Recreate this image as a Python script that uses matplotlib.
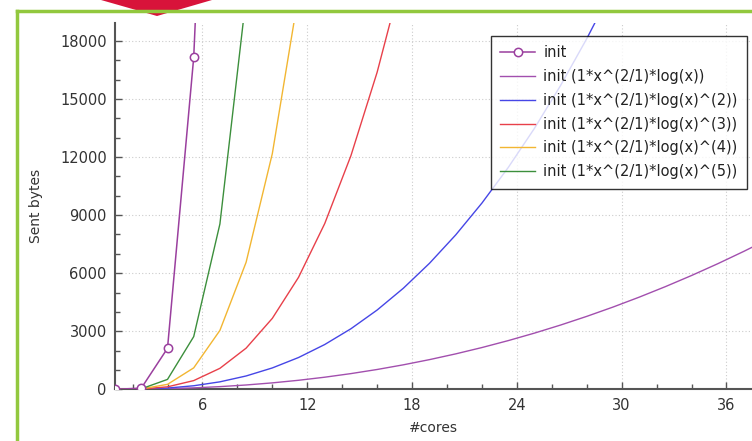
import matplotlib
matplotlib.use("Agg")
import matplotlib.pyplot as plt
from matplotlib.patches import Polygon
from matplotlib.lines import Line2D
from matplotlib.ticker import MultipleLocator

# number of cores for each sample
cores = [1, 2.5, 4, 5.5, 7, 8.5, 10, 11.5, 13, 14.5, 16, 17.5, 19,
         20.5, 22, 23.5, 25, 26.5, 28, 29.5, 31, 32.5, 34, 35.5, 37, 38.5]

# measured sent bytes
init_bytes = [0, 60, 2120, 17150, 48000]

# fitted models, init (1*x^(2/1)*log(x)^(k))
fit_k1 = [0, 8, 32, 74, 138, 223, 332, 466, 625, 811, 1024, 1265, 1534,
          1831, 2158, 2515, 2902, 3320, 3769, 4249, 4761, 5305, 5881, 6490,
          7132, 7807]
fit_k2 = [0, 11, 64, 183, 386, 689, 1104, 1642, 2314, 3129, 4096, 5222,
          6514, 7980, 9625, 11456, 13478, 15697, 18119, 20747]
fit_k3 = [0, 14, 128, 450, 1084, 2127, 3666, 5786, 8564, 12073, 16384, 21563]
fit_k4 = [0, 19, 256, 1107, 3044, 6566, 12178, 20387]
fit_k5 = [0, 25, 512, 2723, 8546, 20272]

fit_labels = [
    "init (1*x^(2/1)*log(x))",
    "init (1*x^(2/1)*log(x)^(2))",
    "init (1*x^(2/1)*log(x)^(3))",
    "init (1*x^(2/1)*log(x)^(4))",
    "init (1*x^(2/1)*log(x)^(5))",
]
fit_colors = ["#a24fae", "#4646e6", "#e8404a", "#f2b632", "#3c8f3c"]

W, H = 752, 441
fig = plt.figure(figsize=(W / 100, H / 100), dpi=100)
fig.patch.set_facecolor("white")

ax = fig.add_axes([115.1 / W, 1 - 389.3 / H, (W - 115.1) / W, (389.3 - 23) / H])

ax.plot(cores[:len(init_bytes)], init_bytes, color="#9a3f9e", lw=1.1,
        marker="o", markersize=6, markerfacecolor="white",
        markeredgecolor="#9a3f9e", markeredgewidth=1.1, label="init", zorder=4)

for vals, lab, col in zip([fit_k1, fit_k2, fit_k3, fit_k4, fit_k5],
                          fit_labels, fit_colors):
    ax.plot(cores[:len(vals)], vals, color=col, lw=1.0, label=lab, zorder=3)

ax.set_xlim(1, 37.46)
ax.set_ylim(0, 18930)
ax.xaxis.set_major_locator(MultipleLocator(6))
ax.xaxis.set_minor_locator(MultipleLocator(2))
ax.yaxis.set_major_locator(MultipleLocator(3000))
ax.yaxis.set_minor_locator(MultipleLocator(1000))

for side in ["top", "right"]:
    ax.spines[side].set_visible(False)
for side in ["left", "bottom"]:
    ax.spines[side].set_color("#555555")
    ax.spines[side].set_linewidth(1.5)

ax.tick_params(which="both", direction="in", color="#555555", width=1.0,
               labelsize=10.5, labelcolor="#333333")
ax.tick_params(which="major", length=5, pad=6)
ax.tick_params(which="minor", length=3.5)
ax.grid(True, which="major", color="#cccccc", linestyle=(0, (1, 2)), lw=0.8)
ax.set_axisbelow(True)

ax.set_xlabel("#cores", fontsize=10, color="#333333", labelpad=6)
ax.set_ylabel("Sent bytes", fontsize=10, color="#333333", labelpad=12)

leg = ax.legend(loc="upper right", bbox_to_anchor=(747 / W, 1 - 36 / H),
                bbox_transform=fig.transFigure, fontsize=10.5, frameon=True,
                fancybox=False, edgecolor="black", borderaxespad=0,
                handlelength=2.4, handletextpad=0.55, labelspacing=0.6,
                borderpad=0.65)
leg.get_frame().set_linewidth(1.0)
for t in leg.get_texts():
    t.set_color("#222222")

# page frame and marker above the chart
fig.add_artist(Line2D([17 / W, 17 / W], [0, 1 - 11 / H],
                      transform=fig.transFigure, color="#92c83e", lw=2.5))
fig.add_artist(Line2D([17 / W, 1], [1 - 11 / H, 1 - 11 / H],
                      transform=fig.transFigure, color="#92c83e", lw=2.5))
fig.add_artist(Polygon([(101 / W, 1), (212 / W, 1), (157 / W, 1 - 16 / H)],
                       closed=True, transform=fig.transFigure,
                       facecolor="#d8133a", edgecolor="none"))

fig.savefig("out.png", dpi=100)
